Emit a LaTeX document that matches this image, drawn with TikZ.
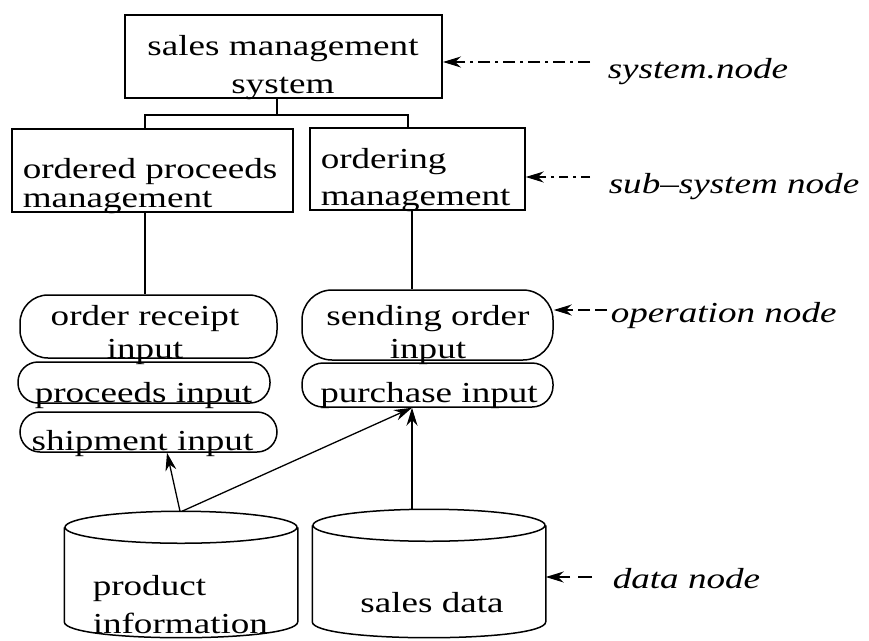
\documentclass[tikz,border=0pt]{standalone}
\usepackage{fontspec}
\setmainfont{Liberation Serif}[FakeStretch=1.28]
\usetikzlibrary{arrows.meta,calc}
\newcommand\dbcylinder[2]{%
  \draw ($(#1.north west)+(0,16)$) -- ($(#1.south west)+(0,-16)$)
    .. controls +(0,21.3) and +(0,21.3) .. ($(#1.south east)+(0,-16)$)
    -- ($(#1.north east)+(0,16)$);
  \draw ($(#1.north)+(0,16)$) ellipse [x radius=#2, y radius=16];}
\begin{document}
\begin{tikzpicture}[x=1pt,y=-1pt, line width=1.5pt,
  font=\fontsize{29}{33}\selectfont,
  box/.style={draw, rectangle, inner sep=0pt},
  opbox/.style={draw, rectangle, rounded corners=#1, inner sep=0pt},
  opbox/.default=26pt,
  db/.style={rectangle, inner sep=0pt},
  txt/.style={inner sep=0pt, anchor=base},
  lab/.style={font=\fontsize{29}{33}\selectfont\itshape, anchor=base west, inner sep=0pt},
  arr/.style={-{Stealth[length=18pt,width=11pt]}},
  conn/.style={line width=1.3pt}]
\useasboundingbox (0,0) rectangle (869,640);

% system and sub-systems
\node[box, line width=2pt, minimum width=317, minimum height=83] (sys) at (283.5,56.5) {};
\node[box, minimum width=281, minimum height=83] (sub1) at (152.5,170.5) {};
\node[box, minimum width=215, minimum height=82] (sub2) at (417.5,169) {};
\node[txt, align=center, font=\fontsize{29}{38}\selectfont] (syst) at (283,93) {sales management\\system};
\node[txt, anchor=base west, align=left, font=\fontsize{29}{29}\selectfont] (sub1t) at (22,207) {ordered proceeds\\management};
\node[txt, anchor=base west, align=left, font=\fontsize{29}{37}\selectfont] (sub2t) at (320,205) {ordering\\management};

% operations
\node[opbox=28pt, minimum width=257, minimum height=63] (rec) at (148.5,326.5) {};
\node[opbox=20pt, minimum width=252, minimum height=41] (proc) at (144,382.5) {};
\node[opbox=20pt, minimum width=257, minimum height=40] (ship) at (148.5,432) {};
\node[opbox=30pt, minimum width=251, minimum height=70] (send) at (427.5,325) {};
\node[opbox=21pt, minimum width=251, minimum height=44] (purch) at (427.5,385) {};
\node[txt, align=center] (rect) at (145,358) {order receipt\\input};
\node[txt] (proct) at (143.5,402) {proceeds input};
\node[txt] (shipt) at (142.5,450) {shipment input};
\node[txt, align=center] (sendt) at (428,358) {sending order\\input};
\node[txt] (purcht) at (429,402) {purchase input};

% data
\node[db, minimum width=232, minimum height=125] (pi) at (181,574.5) {};
\node[db, minimum width=232, minimum height=127] (sd) at (429,573.5) {};
\dbcylinder{pi}{116}
\dbcylinder{sd}{116}
\node[txt, anchor=base west, align=left, font=\fontsize{29}{38}\selectfont] (pit) at (92,633) {product\\information};
\node[txt] (sdt) at (432,612) {sales data};

% tree connectors
\draw[conn] (sys.south -| 277,0) -- (277,115) coordinate (j);
\draw[conn] (sub1.north -| 145,0) |- (j) -| (sub2.north -| 408,0);
\draw[conn] (sub1.south -| 145,0) -- (rec.north -| 145,0);
\draw[conn] (sub2.south -| 412,0) -- (send.north -| 412,0);

% data flows
\coordinate (pin) at (purch.south -| 412,0);
\draw[conn, arr] ([xshift=-1]pi.north) -- (ship.south -| 167,0);
\draw[conn, arr] ([xshift=1]pi.north) -- (pin);
\draw[conn, arr] (sd.north -| pin) -- (pin);

% legend
\node[lab] (l1) at (607,78) {system.node};
\node[lab] (l2) at (608,193) {sub--system node};
\node[lab] (l3) at (610,322) {operation node};
\node[lab] (l4) at (612,588) {data node};
\draw[conn, arr, dash pattern=on 12pt off 5pt on 3pt off 5pt] (590,62) -- (sys.east |- 0,62);
\draw[conn, arr, dash pattern=on 9pt off 5pt on 3pt off 5pt] (590,177) -- (sub2.east |- 0,177);
\draw[conn, arr, dash pattern=on 12pt off 5pt] (607,310) -- (send.east |- 0,310);
\draw[conn, arr, dash pattern=on 14pt off 8pt] (592,577) -- (sd.east |- 0,577);
\end{tikzpicture}
\end{document}
